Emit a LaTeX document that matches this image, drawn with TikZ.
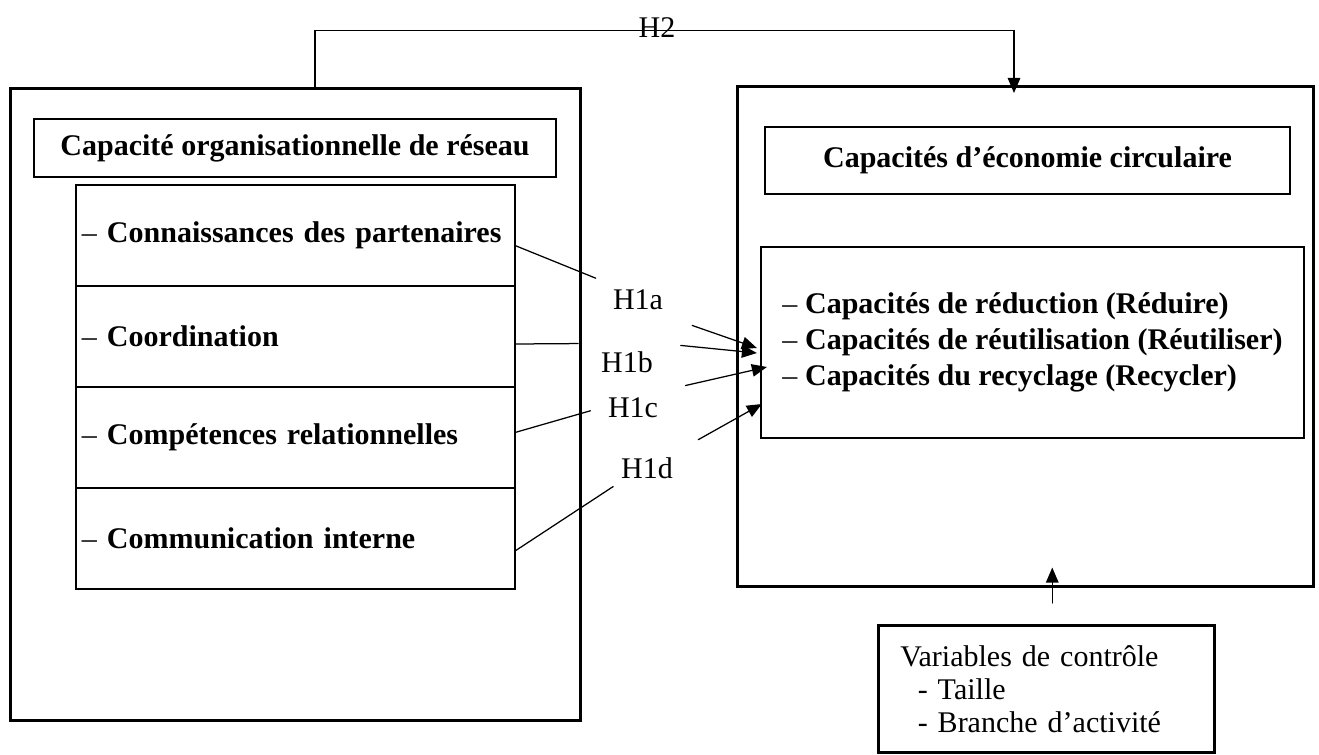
\documentclass[tikz,border=0pt]{standalone}
\usepackage{fontspec}
\setmainfont{Liberation Serif}
\usetikzlibrary{positioning,arrows.meta}

\begin{document}
\begin{tikzpicture}[x=0.4pt,y=-0.4pt,line cap=round,>={Triangle[length=6pt,width=5pt]},
  font=\fontsize{12}{14.4}\selectfont,
  cadre/.style={draw,line width=1.2pt,inner sep=0pt},
  titre/.style={draw,line width=1pt,font=\fontsize{12}{14.4}\selectfont\bfseries},
  ligne/.style={draw,line width=0.9pt,outer sep=0pt,minimum width=175.6pt,minimum height=40.4pt,
    text width=170.8pt,inner xsep=2.4pt,align=left},
  hyp/.style={inner sep=3pt},
  lien/.style={line width=0.5pt}]
  \useasboundingbox (0,0) rectangle (1319,754);
  \clip (0,0) rectangle (1319,754);

  \node[cadre,minimum width=227.6pt,minimum height=252.4pt] (reseau) at (295.5,404.5) {};
  \node[titre,minimum width=208.8pt,minimum height=23.2pt] (reseautitre) at (295,148) {Capacité organisationnelle de réseau};
  \node[ligne,anchor=north] (r1) at (295.5,185) {– \textbf{Connaissances des partenaires}};
  \node[ligne,below=0pt of r1] (r2) {– \textbf{Coordination}};
  \node[ligne,below=0pt of r2] (r3) {– \textbf{Compétences relationnelles}};
  \node[ligne,below=0pt of r3] (r4) {– \textbf{Communication interne}};

  \node[cadre,minimum width=230.4pt,minimum height=199.6pt] (eco) at (1025,336.5) {};
  \node[titre,minimum width=210pt,minimum height=26.8pt] (ecotitre) at (1027.5,160.5) {Capacités d’économie circulaire};
  \node[draw,line width=0.9pt,minimum width=217.2pt,minimum height=76.4pt,align=left] (liste) at (1032.5,342.5)
    {– \textbf{Capacités de réduction (Réduire)}\\
     – \textbf{Capacités de réutilisation (Réutiliser)}\\
     – \textbf{Capacités du recyclage (Recycler)}};

  \node[draw,line width=1pt,anchor=north west,text width=116.8pt,align=left,inner xsep=8.8pt,inner ysep=8pt,
    font=\fontsize{12}{13.2}\selectfont] (controle) at (877,624)
    {Variables de contrôle\\
     \hspace*{7pt}- Taille\\
     \hspace*{7pt}- Branche d’activité};

  \node[hyp] (h1a) at (638,300) {H1a};
  \node[hyp] (h1b) at (627,362) {H1b};
  \node[hyp] (h1c) at (633,408) {H1c};
  \node[hyp] (h1d) at (647,468) {H1d};
  \node (h2) at (657,28) {H2};

  \draw[lien,shorten >=4pt] ([yshift=-4pt]r1.east) -- (h1a.north west);
  \draw[lien,shorten >=6pt] ([yshift=-3pt]r2.east) -- (h1b.north west);
  \draw[lien,shorten >=4pt] ([yshift=2pt]r3.east) -- (h1c.west);
  \draw[lien] ([yshift=-5pt]r4.east) -- (h1d.south west);

  \draw[lien,->,shorten <=9pt] (h1a.south east) -- ([shift={(-1.2pt,-2.2pt)}]liste.west);
  \draw[lien,->,shorten <=8pt] (h1b.north east) -- ([shift={(-1.2pt,-4.2pt)}]liste.west);
  \draw[lien,->,shorten <=8pt] (h1c.north east) -- ([shift={(2.8pt,-9.8pt)}]liste.west);
  \draw[lien,->,shorten <=8pt] (h1d.north east) -- ([shift={(0.8pt,-24.6pt)}]liste.west);

  \draw[lien,->] ([xshift=7.8pt]reseau.north) -- ++(0,-57) -| ([xshift=-4.4pt,yshift=-3pt]eco.north);

  \coordinate (cible) at ([yshift=8pt]eco.south);
  \draw[lien,->,shorten <=8.4pt] ([xshift=2.4pt]controle.north) -- ([xshift=2.4pt]controle.north |- cible);
\end{tikzpicture}
\end{document}
